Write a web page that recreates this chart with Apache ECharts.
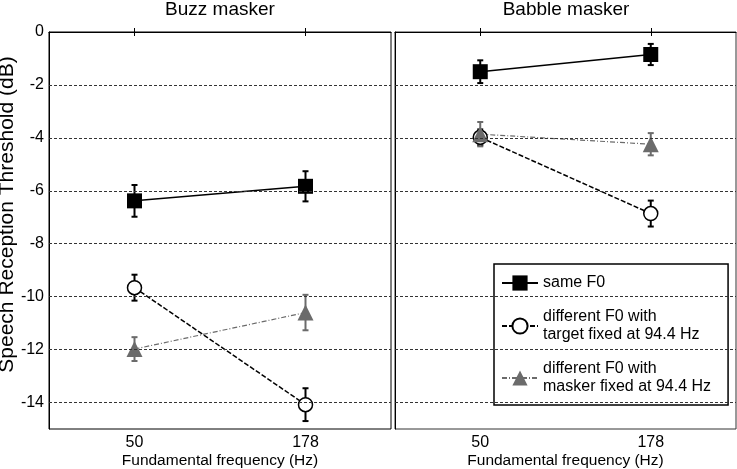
<!DOCTYPE html>
<html>
<head>
<meta charset="utf-8">
<script src="https://cdn.jsdelivr.net/npm/echarts@6/dist/echarts.min.js"></script>
<style>
  html, body { margin: 0; padding: 0; background: #fff; }
  #chart { width: 737px; height: 469px; }
</style>
</head>
<body>
<div id="chart"></div>
<script>
// tick labels / categories
var freqs = ['50', '178'];
var yTicks = [0, -2, -4, -6, -8, -10, -12, -14];
var gridValues = [-2, -4, -6, -8, -10, -12, -14];
var seriesNames = ['same F0', 'different F0 with\ntarget fixed at 94.4 Hz', 'different F0 with\nmasker fixed at 94.4 Hz'];

// buzz masker (left panel)
var buzzSame = [-6.38, -5.83];
var buzzSameErr = [0.6, 0.57];
var buzzTarget = [-9.66, -14.08];
var buzzTargetErr = [0.49, 0.62];
var buzzMasker = [-11.98, -10.6];
var buzzMaskerErr = [0.45, 0.67];

// babble masker (right panel)
var babbleSame = [-1.5, -0.85];
var babbleSameErr = [0.43, 0.4];
var babbleTarget = [-3.98, -6.86];
var babbleTargetErr = [0.3, 0.49];
var babbleMasker = [-3.86, -4.24];
var babbleMaskerErr = [0.46, 0.42];

var FONT = 'Arial, "Liberation Sans", sans-serif';
var grey = '#6b6b6b';

var chart = echarts.init(document.getElementById('chart'));

// error bar series (custom), drawn on the axes scale
function errBars(vals, errs, color, gi) {
    var d = vals.map(function (v, i) { return [i, v - errs[i], v + errs[i]]; });
    return {
        type: 'custom',
        xAxisIndex: gi, yAxisIndex: gi,
        silent: true,
        z: 1,
        data: d,
        renderItem: function (params, api) {
            var lo = api.coord([api.value(0), api.value(1)]);
            var hi = api.coord([api.value(0), api.value(2)]);
            var st = { stroke: color, lineWidth: 2 };
            return {
                type: 'group',
                children: [
                    { type: 'line', shape: { x1: lo[0], y1: lo[1], x2: hi[0], y2: hi[1] }, style: st },
                    { type: 'line', shape: { x1: lo[0] - 3, y1: lo[1], x2: lo[0] + 3, y2: lo[1] }, style: st },
                    { type: 'line', shape: { x1: hi[0] - 3, y1: hi[1], x2: hi[0] + 3, y2: hi[1] }, style: st }
                ]
            };
        }
    };
}

function lineSeries(name, vals, gi, kind, withGrid) {
    var s = {
        name: name,
        type: 'line',
        xAxisIndex: gi, yAxisIndex: gi,
        data: vals,
        z: 3,
        animation: false
    };
    if (kind === 0) {
        s.symbol = 'rect'; s.symbolSize = 15;
        s.itemStyle = { color: '#000' };
        s.lineStyle = { color: '#000', width: 1.5, type: 'solid' };
    } else if (kind === 1) {
        s.symbol = 'circle'; s.symbolSize = 14;
        s.itemStyle = { color: '#fff', borderColor: '#000', borderWidth: 1.5 };
        s.lineStyle = { color: '#000', width: 1.5, type: [5, 2] };
    } else {
        s.symbol = 'triangle'; s.symbolSize = 16;
        s.itemStyle = { color: grey };
        s.lineStyle = { color: grey, width: 1.2, type: [5, 2, 1, 2] };
    }
    if (withGrid) {
        // dashed horizontal gridlines
        s.markLine = {
            silent: true,
            symbol: 'none',
            label: { show: false },
            lineStyle: { color: '#333', width: 1, type: [3, 2] },
            data: gridValues.map(function (v) { return { yAxis: v }; })
        };
    }
    return s;
}

var grids = [
    { left: 49, top: 32, width: 342, height: 397, show: true, borderColor: '#000', borderWidth: 1, outerBoundsMode: 'none' },
    { left: 395, top: 32, width: 341, height: 397, show: true, borderColor: '#333', borderWidth: 1, outerBoundsMode: 'none' }
];

function xAx(gi, pos) {
    var bottom = pos === 'bottom';
    return {
        type: 'category',
        gridIndex: gi,
        position: pos,
        data: freqs,
        boundaryGap: true,
        name: bottom ? 'Fundamental frequency (Hz)' : '',
        nameLocation: 'middle',
        nameGap: 24,
        nameMoveOverlap: false,
        nameTextStyle: { fontFamily: FONT, fontSize: 15.5, color: '#000' },
        axisLine: { show: bottom, lineStyle: { color: '#000' } },
        axisTick: { show: true, inside: true, length: 4, alignWithLabel: true, lineStyle: { color: '#000' } },
        axisLabel: { show: bottom, fontFamily: FONT, fontSize: 16, color: '#000', margin: 6 },
        splitLine: { show: false }
    };
}

function yAx(gi) {
    return {
        type: 'value',
        gridIndex: gi,
        min: -15, max: 0, interval: 1,
        name: gi === 0 ? 'Speech Reception Threshold (dB)' : '',
        nameLocation: 'middle',
        nameGap: 31,
        nameMoveOverlap: false,
        nameTextStyle: { fontFamily: FONT, fontSize: 21, color: '#000', padding: [0, 0, 0, 32] },
        axisLine: { show: true, lineStyle: { color: '#000' } },
        axisTick: { show: false },
        splitLine: { show: false },
        axisLabel: {
            show: gi === 0,
            fontFamily: FONT, fontSize: 16, color: '#000', margin: 5,
            formatter: function (v) { return yTicks.indexOf(v) >= 0 ? String(v) : ''; }
        }
    };
}

var option = {
    backgroundColor: '#fff',
    animation: false,
    title: [
        { text: 'Buzz masker', left: 220, top: 0, padding: 0, textAlign: 'center',
          textStyle: { fontFamily: FONT, fontSize: 19, fontWeight: 'normal', color: '#000' } },
        { text: 'Babble masker', left: 566, top: 0, padding: 0, textAlign: 'center',
          textStyle: { fontFamily: FONT, fontSize: 19, fontWeight: 'normal', color: '#000' } }
    ],
    legend: {
        orient: 'vertical',
        left: 494, top: 264,
        padding: [10, 17, 9, 7],
        itemGap: 16,
        itemWidth: 36, itemHeight: 19,
        backgroundColor: '#fff',
        borderColor: '#000', borderWidth: 1.5,
        textStyle: { fontFamily: FONT, fontSize: 16, color: '#000', lineHeight: 18 },
        data: seriesNames
    },
    grid: grids,
    xAxis: [xAx(0, 'bottom'), xAx(1, 'bottom'), xAx(0, 'top'), xAx(1, 'top')],
    yAxis: [yAx(0), yAx(1)],
    series: [
        errBars(buzzSame, buzzSameErr, '#000', 0),
        errBars(buzzTarget, buzzTargetErr, '#000', 0),
        errBars(buzzMasker, buzzMaskerErr, grey, 0),
        errBars(babbleSame, babbleSameErr, '#000', 1),
        errBars(babbleTarget, babbleTargetErr, '#000', 1),
        errBars(babbleMasker, babbleMaskerErr, grey, 1),
        lineSeries(seriesNames[0], buzzSame, 0, 0, true),
        lineSeries(seriesNames[1], buzzTarget, 0, 1, false),
        lineSeries(seriesNames[2], buzzMasker, 0, 2, false),
        lineSeries(seriesNames[0], babbleSame, 1, 0, true),
        lineSeries(seriesNames[1], babbleTarget, 1, 1, false),
        lineSeries(seriesNames[2], babbleMasker, 1, 2, false)
    ]
};

chart.setOption(option);
</script>
</body>
</html>
